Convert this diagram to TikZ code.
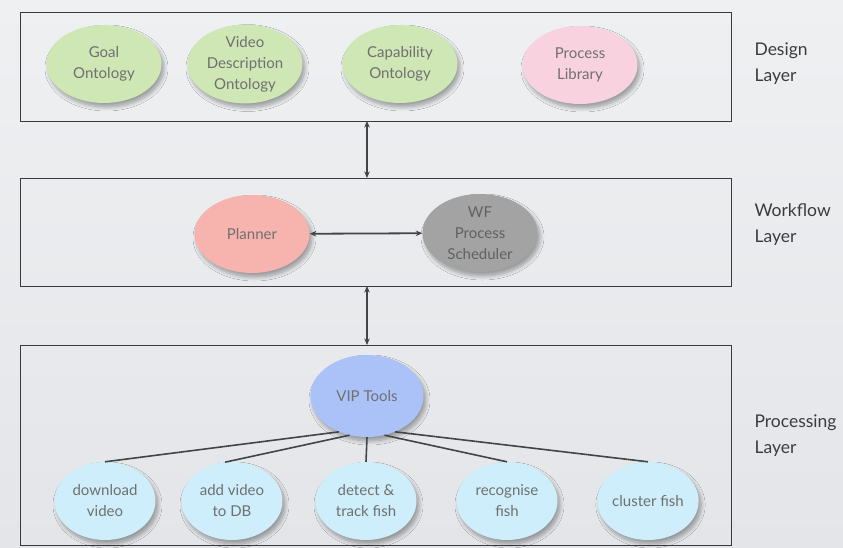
\documentclass[tikz,border=0pt]{standalone}
\usepackage{fontspec}
\setmainfont{Lato}
\usetikzlibrary{shapes.geometric,arrows.meta,shadows.blur}
\definecolor{bgtop}{HTML}{EEF0F2}
\definecolor{bgbot}{HTML}{E3E5E8}
\definecolor{boxline}{HTML}{3A3A3A}
\definecolor{txtgray}{HTML}{707070}
\definecolor{lbl}{HTML}{3C3C3C}
\definecolor{ongreen}{HTML}{CFE6B5}
\definecolor{libpink}{HTML}{F8D3DF}
\definecolor{plannerred}{HTML}{F7B3AE}
\definecolor{schedgray}{HTML}{A3A3A3}
\definecolor{vipblue}{HTML}{AAC2F8}
\definecolor{toolcyan}{HTML}{CDEEFA}
\definecolor{linegray}{HTML}{444444}
\tikzset{
  bubble/.style={ellipse, inner sep=0pt, minimum width=115pt, minimum height=78pt,
    align=center, text=txtgray, font=\fontsize{15}{21}\selectfont,
    blur shadow={shadow xshift=2.5pt, shadow yshift=-4pt, shadow blur steps=8, shadow blur radius=4pt, shadow opacity=35}},
  toolbubble/.style={bubble, minimum width=101pt, minimum height=78pt, fill=toolcyan},
  layerbox/.style={draw=boxline, line width=0.8pt},
  layerlabel/.style={anchor=west, align=left, text=lbl, font=\fontsize{17.5}{26}\selectfont},
  link/.style={draw=linegray, line width=1.3pt, {Stealth[length=6.5pt,width=5.5pt]}-{Stealth[length=6.5pt,width=5.5pt]}},
  branch/.style={draw=linegray, line width=1.6pt}
}
\begin{document}
\begin{tikzpicture}[x=1pt,y=-1pt]
\shade[top color=bgtop, bottom color=bgbot] (0,0) rectangle (843,548);
\useasboundingbox (0,0) rectangle (843,548);
% layer boxes
\node[layerbox, minimum width=711pt, minimum height=109pt, inner sep=0pt] (design) at (375.5,66.5) {};
\node[layerbox, minimum width=711pt, minimum height=108pt, inner sep=0pt] (workflow) at (375.5,232) {};
\node[layerbox, minimum width=711pt, minimum height=200pt, inner sep=0pt] (processing) at (375.5,445) {};
% design layer
\node[bubble, fill=ongreen] (goal) at (104,64) {Goal\\Ontology};
\node[bubble, fill=ongreen] (vdo) at (245,64) {Video\\Description\\Ontology};
\node[bubble, fill=ongreen] (cap) at (400,64) {Capability\\Ontology};
\node[bubble, fill=libpink] (lib) at (580,65) {Process\\Library};
% workflow layer
\node[bubble, fill=plannerred] (planner) at (252,234) {Planner};
\node[bubble, fill=schedgray, text=black!62] (sched) at (480,233) {WF\\Process\\Scheduler};
% processing layer
\node[bubble, fill=vipblue, minimum width=113pt, minimum height=82pt] (vip) at (367,396) {VIP Tools};
\node[toolbubble] (dl) at (105,501) {download\\video};
\node[toolbubble] (add) at (232,501) {add video\\to DB};
\node[toolbubble] (det) at (366,501) {detect \&\\track fish};
\node[toolbubble] (rec) at (507,501) {recognise\\fish};
\node[toolbubble] (clu) at (648,501) {cluster fish};
% connectors
\coordinate (d1) at (367,121);
\coordinate (w1) at (367,178);
\coordinate (w2) at (367,286);
\coordinate (p1) at (367,345);
\draw[link] (d1) -- (w1);
\draw[link] (w2) -- (p1);
\draw[link, line width=1.8pt] (planner) -- (sched);
\draw[branch] (vip.232) -- (dl.north);
\draw[branch] (vip.246) -- (add.100);
\draw[branch] (vip.270) -- (det.north);
\draw[branch] (vip.294) -- (rec.north);
\draw[branch] (vip.308) -- (clu.north);
% labels
\node[layerlabel] (ldesign) at (751,64) {Design\\Layer};
\node[layerlabel] (lwork) at (751,225) {Workflow\\Layer};
\node[layerlabel] (lproc) at (751,436) {Processing\\Layer};
\end{tikzpicture}
\end{document}
